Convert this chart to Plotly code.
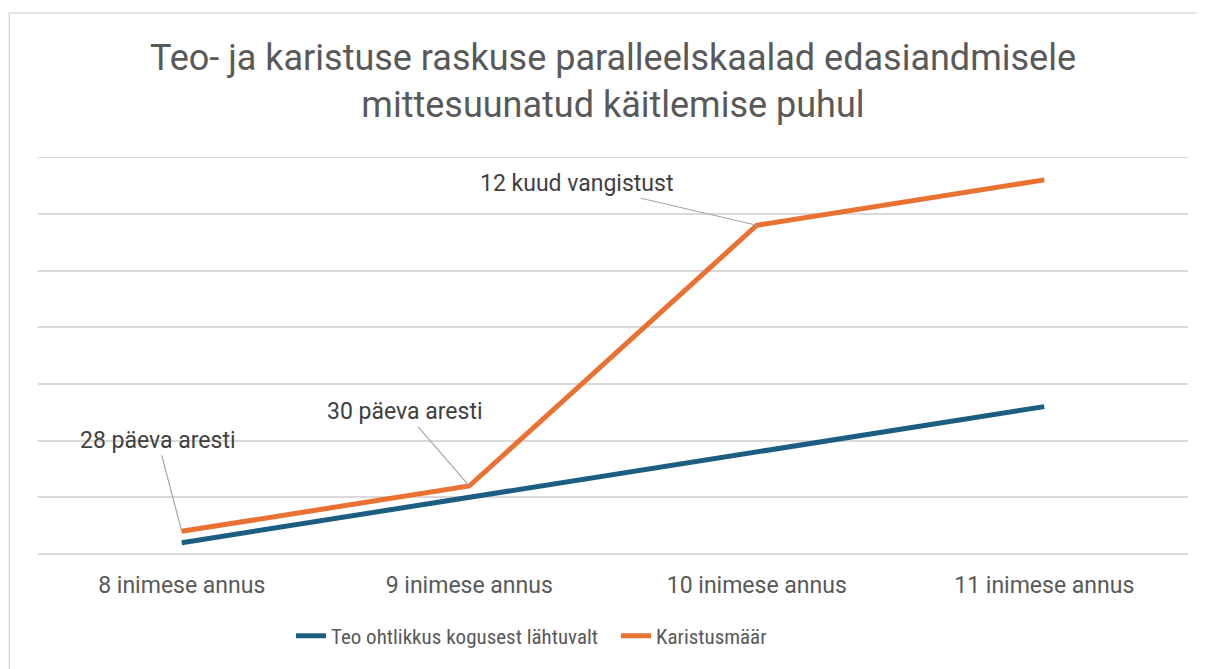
import plotly.graph_objects as go

categories = ["8 inimese annus", "9 inimese annus", "10 inimese annus", "11 inimese annus"]
teo_ohtlikkus = [0.2, 1.0, 1.8, 2.6]
karistusmaar = [0.4, 1.2, 5.8, 6.6]
labels = ["28 päeva aresti", "30 päeva aresti", "12 kuud vangistust"]
label_offsets = [(-24, -91), (-64, -74), (-180, -42)]

BLUE = "#1b5e82"
ORANGE = "#e97132"
GRID = "#d9d9d9"
TXT = "#595959"

fig = go.Figure()
fig.add_trace(go.Scatter(x=categories, y=teo_ohtlikkus, mode="lines",
                         name="Teo ohtlikkus kogusest lähtuvalt",
                         line=dict(color=BLUE, width=5)))
fig.add_trace(go.Scatter(x=categories, y=karistusmaar, mode="lines",
                         name="Karistusmäär",
                         line=dict(color=ORANGE, width=5)))

for i, lab in enumerate(labels):
    ax, ay = label_offsets[i]
    fig.add_annotation(x=categories[i], y=karistusmaar[i], text=lab,
                       showarrow=True, arrowhead=0, arrowwidth=1.2,
                       arrowcolor="#a6a6a6", ax=ax, ay=ay,
                       font=dict(family="Roboto", size=23, color="#404040"))

# top gridline (at the range edge)
fig.add_shape(type="line", xref="paper", yref="y", x0=0, x1=1, y0=7, y1=7,
              line=dict(color=GRID, width=1.5), layer="below")

fig.add_shape(type="rect", xref="paper", yref="paper",
              x0=-0.025, x1=1.05, y0=-0.33, y1=1.3627,
              line=dict(color=GRID, width=1.5), fillcolor="rgba(0,0,0,0)", layer="below")

fig.update_layout(
    width=1197, height=661,
    paper_bgcolor="white", plot_bgcolor="white",
    margin=dict(l=30, r=17, t=149, b=115),
    title=dict(text="Teo- ja karistuse raskuse paralleelskaalad edasiandmisele<br>mittesuunatud käitlemise puhul",
               x=0.5054, xanchor="center", y=0.906, yanchor="middle", yref="container",
               font=dict(family="Roboto", size=36, color=TXT)),
    font=dict(family="Roboto", color=TXT),
    showlegend=True,
    legend=dict(orientation="h", x=0.22, xanchor="left", y=-0.155, yanchor="top",
                font=dict(family="Roboto Condensed, Roboto", size=21, color=TXT),
                entrywidth=280, entrywidthmode="pixels", traceorder="normal"),
    xaxis=dict(type="category", range=[-0.5, 3.5], showgrid=False, showline=False,
               zeroline=False, ticks="", tickfont=dict(size=23, color=TXT),
               ticklabelstandoff=15),
    yaxis=dict(range=[0, 7.004], dtick=1, showgrid=True, gridcolor=GRID, gridwidth=1.5,
               showticklabels=False, zeroline=True, zerolinecolor=GRID, zerolinewidth=1.5,
               fixedrange=True),
)

fig.write_html("out.html")
